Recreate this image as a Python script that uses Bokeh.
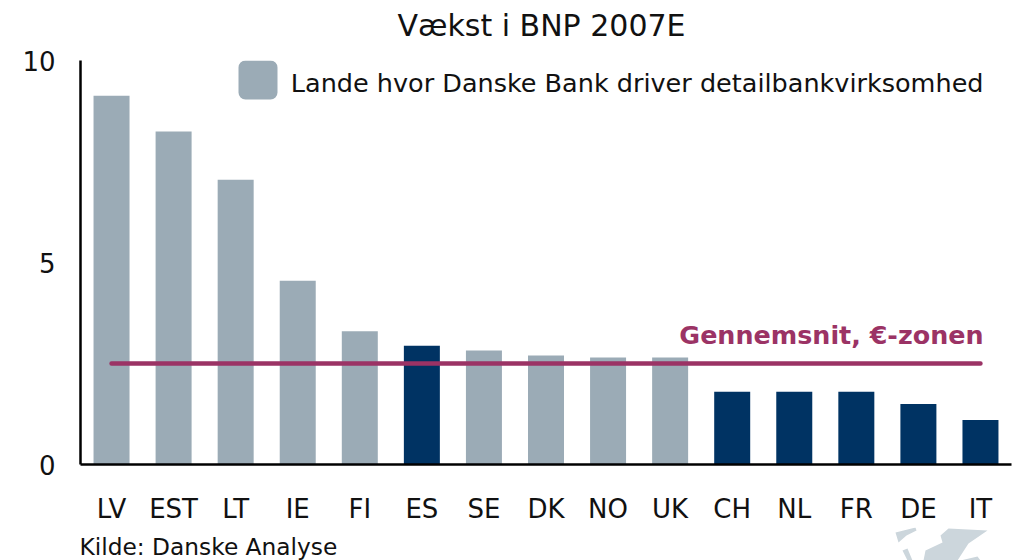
from bokeh.plotting import figure
from bokeh.layouts import column
from bokeh.embed import file_html
from bokeh.resources import INLINE
from bokeh.models import Label, BoxAnnotation, PolyAnnotation, FactorRange, Range1d, FixedTicker

categories = ["LV","EST","LT","IE","FI","ES","SE","DK","NO","UK","CH","NL","FR","DE","IT"]
growth = [9.13,8.24,7.05,4.55,3.3,2.94,2.82,2.7,2.65,2.65,1.8,1.8,1.8,1.5,1.1]
retail = [True,True,True,True,True,False,True,True,True,True,False,False,False,False,False]
euro_avg = [2.5]*15
y_ticks = [0,5,10]
title = "Vækst i BNP 2007E"
unit = "Pct."
legend_text = "Lande hvor Danske Bank driver detailbankvirksomhed"
avg_label = "Gennemsnit, €-zonen"
source = "Kilde: Danske Analyse"

GREY="#9BABB6"; NAVY="#003363"; PURPLE="#9B3365"; INK="#111111"; LOGO="#CCD6DC"
FONT="DejaVu Sans"
W=1012
H_TOP,H_MAIN,H_BOT=45,482,33
Y0=H_TOP; Y1=H_TOP+H_MAIN

def strip(h):
    f=figure(width=W,height=h,output_backend="svg",toolbar_location=None,x_range=(0,1),y_range=(0,1),
             x_axis_location=None,y_axis_location=None,
             min_border=0,min_border_left=0,min_border_right=0,min_border_top=0,min_border_bottom=0)
    f.grid.visible=False; f.outline_line_color=None
    return f
top=strip(H_TOP); bot=strip(H_BOT)

p = figure(width=W,height=H_MAIN,output_backend="svg",toolbar_location=None,
           x_range=FactorRange(*categories,range_padding=0,factor_padding=0),
           y_range=Range1d(0,10),min_border_left=80,min_border_right=1,min_border_top=15,min_border_bottom=63)
p.outline_line_color=None
p.grid.visible=False
colors=[GREY if r else NAVY for r in retail]
p.vbar(x=categories,top=growth,width=0.58,color=colors,line_color=None)
p.line(categories,euro_avg,line_color=PURPLE,line_width=4.5,line_cap="round")

for ax in (p.xaxis[0],p.yaxis[0]):
    ax.axis_line_color="#000000"; ax.axis_line_width=2.5
    ax.major_tick_line_color=None; ax.minor_tick_line_color=None
    ax.major_label_text_font=FONT; ax.major_label_text_font_size="26px"; ax.major_label_text_color=INK
p.yaxis[0].ticker=FixedTicker(ticks=y_ticks)
p.yaxis[0].major_label_standoff=19
p.xaxis[0].major_label_standoff=23

def lab(f,t,x,y,size,color=INK,align="left",weight="normal"):
    f.add_layout(Label(x=x,y=y,x_units="canvas",y_units="canvas",text=t,text_font=FONT,text_font_size=size,
        text_color=color,text_align=align,text_baseline="middle",text_font_style=weight))
lab(top,unit,12,26,"25px")
lab(top,title,541,25,"30px",align="center")
lab(p,legend_text,983,82-Y0,"25.5px",align="right")
lab(p,avg_label,983,334-Y0,"25.4px",PURPLE,"right","bold")
lab(bot,source,79,546-Y1,"23.3px")
p.add_layout(BoxAnnotation(left=238,right=277,top=60-Y0,bottom=99-Y0,left_units="canvas",right_units="canvas",
    top_units="canvas",bottom_units="canvas",fill_color=GREY,fill_alpha=1,line_color=None,border_radius=7))
for xs,ys in [
 ([895,915,916,906,898],[532,527,530,535,542]),
 ([948,987,968,957,923,925,942,940],[528,530,543,560,560,550,542,535]),
 ([902,907,912,907],[550,548,560,560]),
 ([960,977,980,960],[560,556,560,560]),
]:
    bot.add_layout(PolyAnnotation(xs=xs,ys=[v-Y1 for v in ys],xs_units="canvas",ys_units="canvas",fill_color=LOGO,fill_alpha=1,line_color=None))
layout=column(top,p,bot,spacing=0)
open("out.html","w").write(file_html(layout,INLINE))
